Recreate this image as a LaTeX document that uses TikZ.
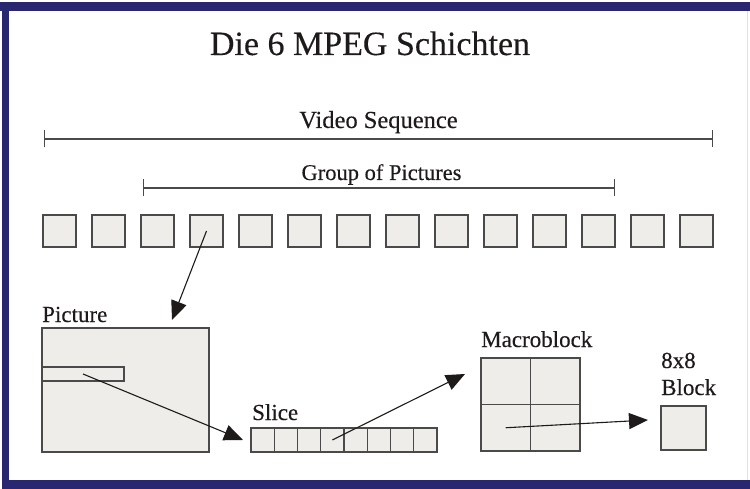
\documentclass[tikz,border=0pt]{standalone}
\usepackage{fontspec}
\setmainfont[FakeBold=0.3]{Liberation Serif}
\usetikzlibrary{arrows.meta,positioning}
\definecolor{Frame}{HTML}{28276F}
\definecolor{Ink}{HTML}{1E1A1A}
\definecolor{Edge}{HTML}{4A4A4A}
\definecolor{Panel}{HTML}{EEEDEA}

\begin{document}
\begin{tikzpicture}[x=1pt,y=-1pt,
  cell/.style={draw=Edge,line width=1.2pt,fill=Panel,inner sep=0pt},
  part/.style={draw=Edge,line width=1.2pt,inner sep=0pt},
  frame/.style={cell,minimum width=33pt,minimum height=32pt},
  lbl/.style={inner sep=0pt,text=Ink,font=\fontsize{23}{26}\selectfont},
  span/.style={{Bar[width=17pt]}-{Bar[width=17pt]},draw=Edge,line width=1.1pt},
  arrow/.style={-{Triangle[length=19pt,width=16pt]},draw=Ink,line width=1.1pt}
]
\useasboundingbox (0,0) rectangle (750,489);
% blue frame of the scan
\fill[Frame] (0,2) rectangle (750,11);
\fill[Frame] (2,2) rectangle (9,489);
\fill[Frame] (2,480) rectangle (750,489);
\draw[black!12,line width=1pt] (747,11) -- (747,480);

\node[lbl,anchor=base,font=\fontsize{34}{38}\selectfont] (title) at (370,55) {Die 6 MPEG Schichten};

% sequence and group of pictures
\node[lbl,anchor=base,font=\fontsize{24.5}{28}\selectfont] (vslabel) at (378.5,128) {Video Sequence};
\coordinate (vs-l) at (44,139);
\coordinate (vs-r) at (713,139);
\draw[span] (vs-l) -- (vs-r);
\node[lbl,anchor=base,font=\fontsize{22.5}{26}\selectfont] (goplabel) at (381.5,180) {Group of Pictures};
\coordinate (gop-l) at (143,188);
\coordinate (gop-r) at (615,188);
\draw[span] (gop-l) -- (gop-r);

\foreach \i in {1,...,14}
  \node[frame] (f\i) at ({10.5+49*\i},231) {};

% picture with one slice
\node[cell,minimum width=167pt,minimum height=124pt] (pic) at (125.5,390) {};
\node[cell,minimum width=82pt,minimum height=14pt] (picslice) at (83,374) {};
\node[lbl,anchor=base west] (piclabel) at (42,322) {Picture};

% slice
\node[cell,minimum width=186pt,minimum height=24pt] (slice) at (344,440) {};
\foreach \i in {1,...,8}
  \node[part,minimum width=23.25pt,minimum height=24pt] (s\i) at ({251+23.25*(\i-0.5)},440) {};
\node[lbl,anchor=base west] (slicelabel) at (252,420) {Slice};

% macroblock
\node[cell,minimum width=99pt,minimum height=93pt] (mb) at (530.5,404.5) {};
\node[part,minimum width=49.5pt,minimum height=46.5pt] (m1) at (505.75,381.25) {};
\node[part,minimum width=49.5pt,minimum height=46.5pt] (m2) at (555.25,381.25) {};
\node[part,minimum width=49.5pt,minimum height=46.5pt] (m3) at (505.75,427.75) {};
\node[part,minimum width=49.5pt,minimum height=46.5pt] (m4) at (555.25,427.75) {};
\node[lbl,anchor=base west] (mblabel) at (481,347) {Macroblock};

% 8x8 block
\node[cell,minimum width=45pt,minimum height=44pt] (blk) at (683.5,428) {};
\node[lbl,anchor=base west] (blklabel1) at (661,368) {8x8};
\node[lbl,anchor=base west] (blklabel2) at (661,395) {Block};

\coordinate (tip1) at (172,320);
\coordinate (tip2) at (243,440);
\coordinate (tip3) at (465,374);
\coordinate (tip4) at (648,420);
\draw[arrow] (f4.center) -- (tip1);
\draw[arrow] (picslice.center) -- (tip2);
\draw[arrow] (s4.center) -- (tip3);
\draw[arrow] (m3.center) -- (tip4);
\end{tikzpicture}
\end{document}
